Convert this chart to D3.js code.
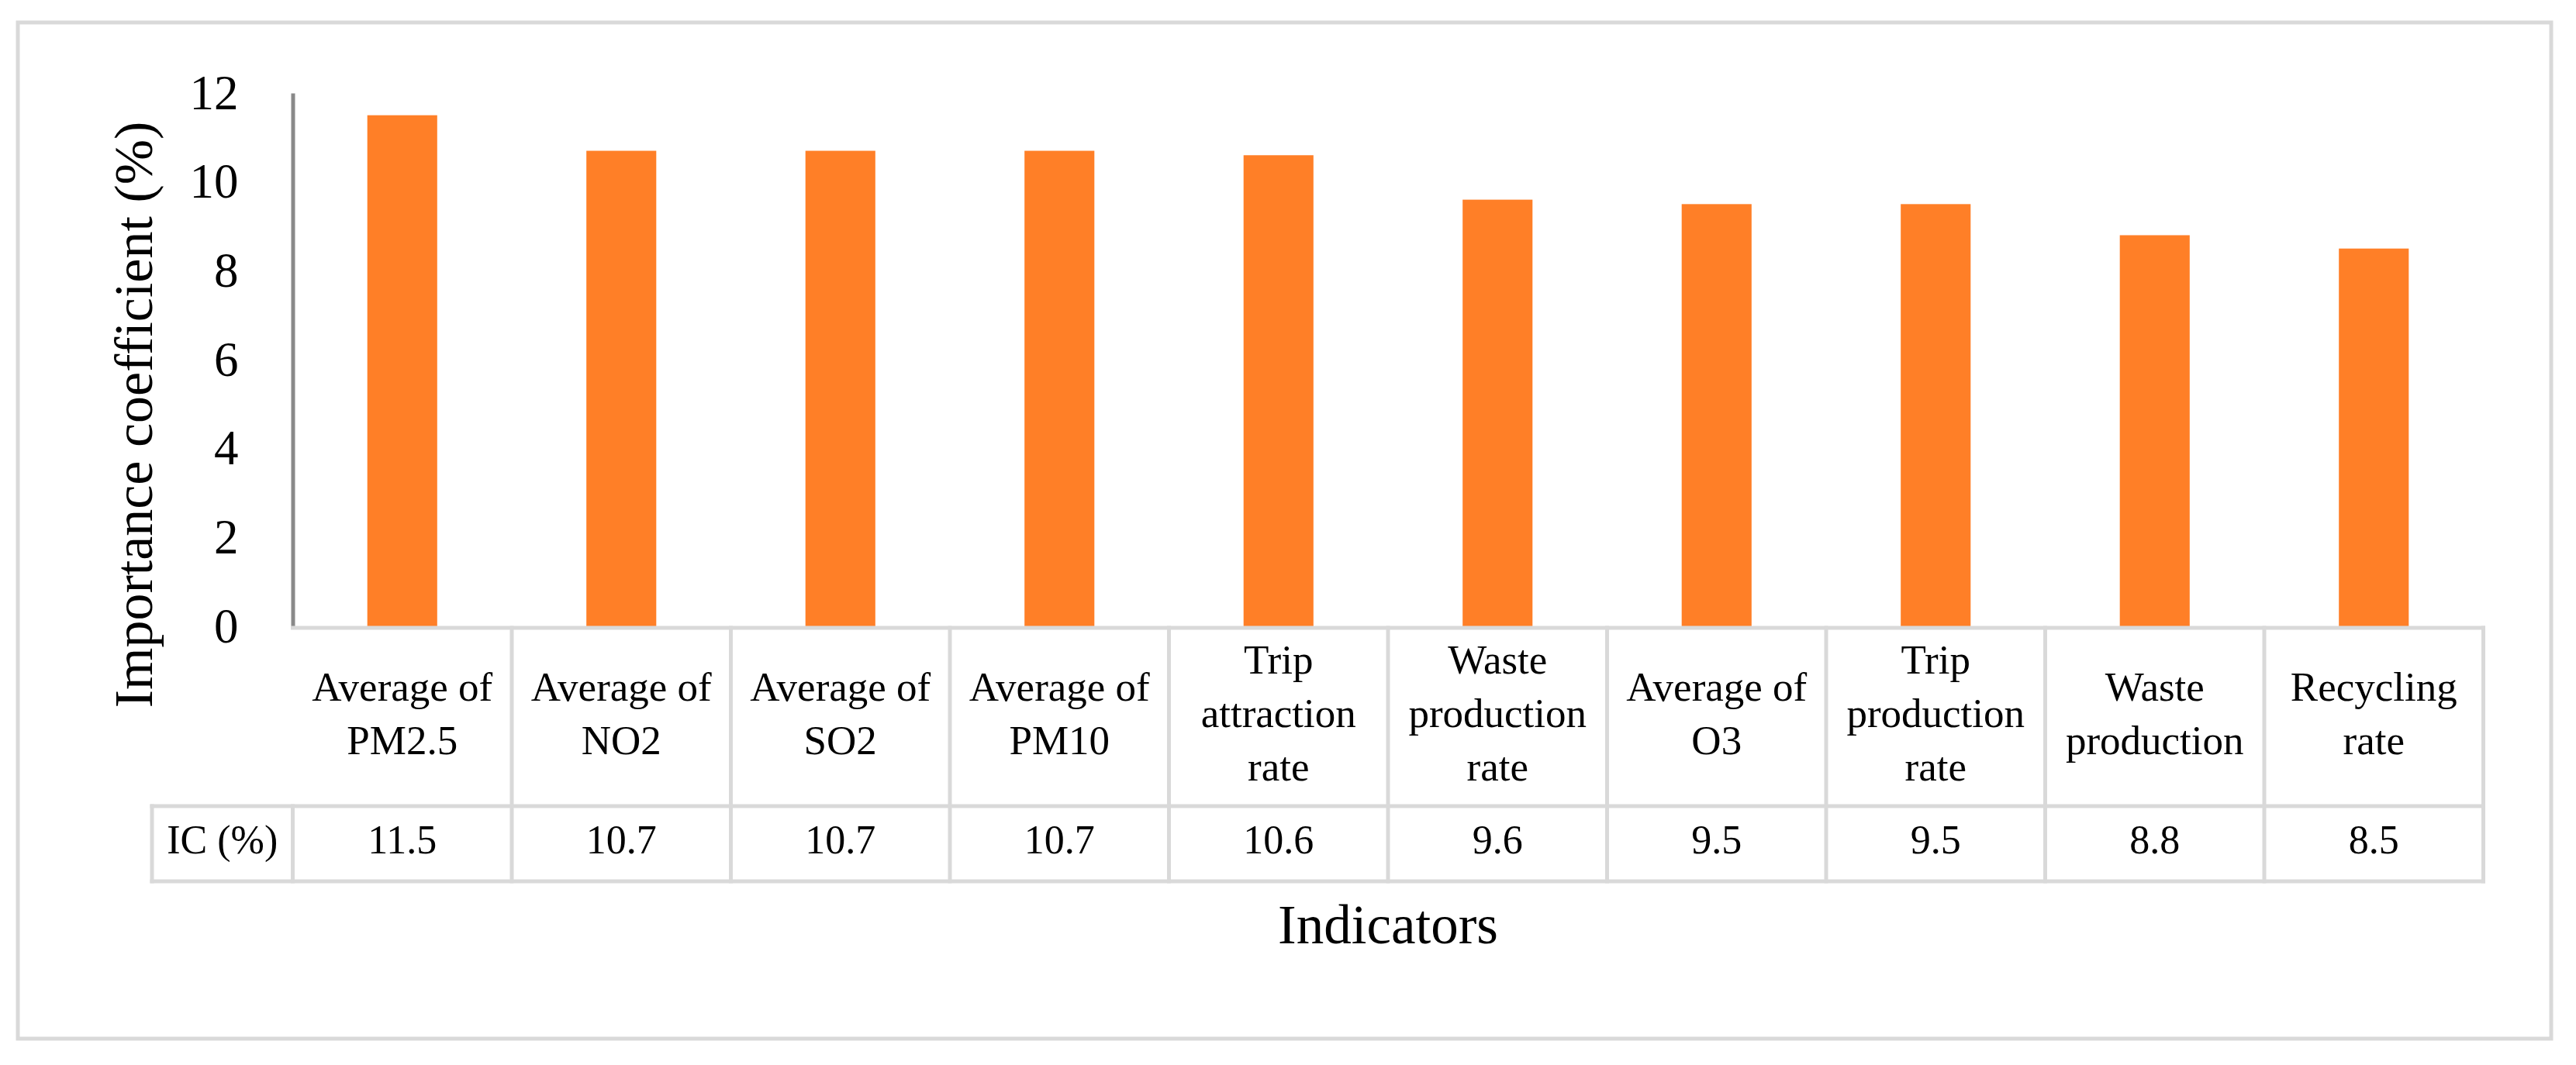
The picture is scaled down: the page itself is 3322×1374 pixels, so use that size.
<!DOCTYPE html>
<html>
<head>
<meta charset="utf-8">
<script src="https://cdn.jsdelivr.net/npm/d3@7"></script>
<style>
    body { margin: 0; background: #fff; }
    svg { display: block; }
    text { font-family: "Liberation Serif", "Times New Roman", serif; fill: #000; }
</style>
</head>
<body>
<svg id="chart"></svg>
<script>
// chart data
const categories = [
    "Average of PM2.5", "Average of NO2", "Average of SO2", "Average of PM10",
    "Trip attraction rate", "Waste production rate", "Average of O3",
    "Trip production rate", "Waste production", "Recycling rate"
];
// how each category label wraps inside its table cell
const categoryLines = [
    ["Average of", "PM2.5"], ["Average of", "NO2"], ["Average of", "SO2"], ["Average of", "PM10"],
    ["Trip", "attraction", "rate"], ["Waste", "production", "rate"], ["Average of", "O3"],
    ["Trip", "production", "rate"], ["Waste", "production"], ["Recycling", "rate"]
];
const icValues = [11.5, 10.7, 10.7, 10.7, 10.6, 9.6, 9.5, 9.5, 8.8, 8.5];
const yTicks = [0, 2, 4, 6, 8, 10, 12];
const rowLabel = "IC (%)";
const yTitle = "Importance coefficient (%)";
const xTitle = "Indicators";

const W = 3322, H = 1374;
const plot = {left: 377.5, right: 3202.5, top: 120, bottom: 808};
const table = {top: 810, mid: 1040, bottom: 1137, labelLeft: 196};
const gridColor = "#d9d9d9";
const lineGap = 69;
const fontFamily = "\"Liberation Serif\", \"Times New Roman\", serif";

const svg = d3.select("#chart")
    .attr("width", W)
    .attr("height", H);

svg.append("rect")
    .attr("width", W).attr("height", H)
    .attr("fill", "#fff");

// outer frame
svg.append("rect")
    .attr("x", 23).attr("y", 29)
    .attr("width", 3290 - 23).attr("height", 1340 - 29)
    .attr("fill", "none")
    .attr("stroke", gridColor)
    .attr("stroke-width", 5);

const x = d3.scaleBand()
    .domain(categories)
    .range([plot.left, plot.right])
    .paddingInner(0.681)
    .paddingOuter(0.3405);

const col = d3.scaleBand()
    .domain(categories)
    .range([plot.left, plot.right])
    .padding(0);

const y = d3.scaleLinear()
    .domain([0, 12])
    .range([plot.bottom, plot.top]);

// bars
svg.append("g")
    .selectAll("rect")
    .data(icValues)
    .join("rect")
        .attr("x", (d, i) => x(categories[i]))
        .attr("width", x.bandwidth())
        .attr("y", d => y(d))
        .attr("height", d => y(0) - y(d))
        .attr("fill", "#ff7f27");

// y axis
const yAxis = svg.append("g")
    .attr("transform", `translate(${plot.left},0)`)
    .call(d3.axisLeft(y).tickValues(yTicks).tickSize(0).tickSizeOuter(0).tickPadding(70));

yAxis.select(".domain")
    .attr("stroke", "#898989")
    .attr("stroke-width", 5);

yAxis.selectAll("text")
    .style("font-size", "63px")
    .style("font-family", fontFamily)
    .attr("fill", "#000");

svg.append("text")
    .attr("transform", `translate(196,535) rotate(-90)`)
    .style("text-anchor", "middle")
    .style("font-size", "70px")
    .text(yTitle);

// data table grid
const grid = svg.append("g")
    .attr("stroke", gridColor)
    .attr("stroke-width", 5)
    .attr("stroke-linecap", "square");

grid.append("line")
    .attr("x1", plot.left).attr("x2", plot.right)
    .attr("y1", table.top).attr("y2", table.top);
grid.append("line")
    .attr("x1", table.labelLeft).attr("x2", plot.right)
    .attr("y1", table.mid).attr("y2", table.mid);
grid.append("line")
    .attr("x1", table.labelLeft).attr("x2", plot.right)
    .attr("y1", table.bottom).attr("y2", table.bottom);
grid.append("line")
    .attr("x1", table.labelLeft).attr("x2", table.labelLeft)
    .attr("y1", table.mid).attr("y2", table.bottom);

const edges = categories.map(c => col(c)).concat([col(categories[categories.length - 1]) + col.bandwidth()]);
grid.selectAll("line.edge")
    .data(edges)
    .join("line")
        .attr("class", "edge")
        .attr("x1", d => d).attr("x2", d => d)
        .attr("y1", (d, i) => i === 0 ? table.mid : table.top)
        .attr("y2", table.bottom);

// category labels
const headCenter = (table.top + table.mid) / 2;
const labels = svg.append("g")
    .style("font-size", "53px")
    .style("text-anchor", "middle");

labels.selectAll("text")
    .data(categoryLines)
    .join("text")
        .attr("x", (d, i) => col(categories[i]) + col.bandwidth() / 2)
        .each(function(lines) {
            const t = d3.select(this);
            lines.forEach((line, j) => {
                t.append("tspan")
                    .attr("x", t.attr("x"))
                    .attr("y", headCenter + (j - (lines.length - 1) / 2) * lineGap + 13)
                    .text(line);
            });
        });

// value row
const rowCenter = (table.mid + table.bottom) / 2;
const values = svg.append("g")
    .style("font-size", "52px")
    .style("text-anchor", "middle");

values.selectAll("text")
    .data(icValues)
    .join("text")
        .attr("x", (d, i) => col(categories[i]) + col.bandwidth() / 2)
        .attr("y", rowCenter + 12)
        .text(d => d3.format(".1f")(d));

values.append("text")
    .attr("x", (table.labelLeft + plot.left) / 2)
    .attr("y", rowCenter + 12)
    .text(rowLabel);

svg.append("text")
    .attr("x", (plot.left + plot.right) / 2)
    .attr("y", 1217)
    .style("text-anchor", "middle")
    .style("font-size", "71px")
    .text(xTitle);
</script>
</body>
</html>
